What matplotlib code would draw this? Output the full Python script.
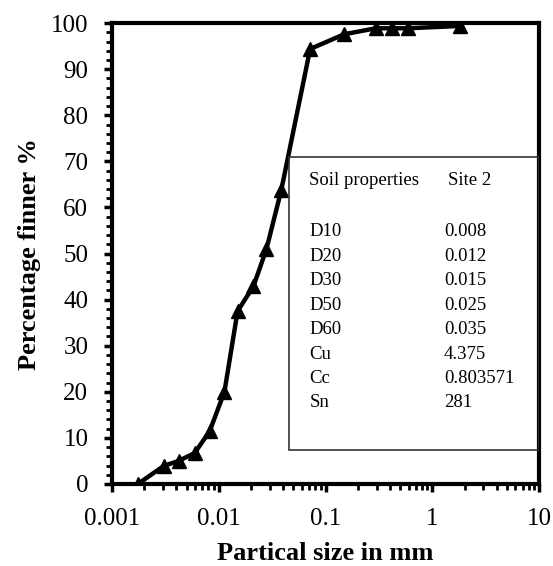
import matplotlib
matplotlib.use("Agg")
import matplotlib.pyplot as plt
from matplotlib.ticker import MultipleLocator, FixedLocator, LogLocator, NullFormatter

plt.rcParams['font.family'] = ['Liberation Serif', 'DejaVu Serif']

# Data
particle_size_mm = [0.00175, 0.00305, 0.00421, 0.00594, 0.0082, 0.0113, 0.0150, 0.0211,
                    0.0279, 0.0385, 0.0717, 0.149, 0.296, 0.417, 0.588, 1.80]
percent_finer = [0.0, 3.9, 5.0, 6.7, 11.4, 20.0, 37.5, 42.9,
                 50.9, 63.8, 94.4, 97.6, 98.9, 98.9, 98.9, 99.4]

x_ticks = [0.001, 0.01, 0.1, 1, 10]
x_tick_labels = ["0.001", "0.01", "0.1", "1", "10"]
y_ticks = [0, 10, 20, 30, 40, 50, 60, 70, 80, 90, 100]

table_header = ("Soil properties", "Site 2")
table_names = ["D10", "D20", "D30", "D50", "D60", "Cu", "Cc", "Sn"]
table_values = ["0.008", "0.012", "0.015", "0.025", "0.035", "4.375", "0.803571", "281"]

fig = plt.figure(figsize=(5.53, 5.66), dpi=100)
ax = fig.add_axes([0.2025, 0.145, 0.7725, 0.814])

ax.plot(particle_size_mm, percent_finer, color='black', lw=3.2,
        marker='^', markersize=10, markerfacecolor='black', markeredgecolor='black',
        solid_capstyle='round', solid_joinstyle='round')

ax.set_xscale('log')
ax.set_xlim(0.001, 10)
ax.set_ylim(0, 100)
ax.xaxis.set_major_locator(FixedLocator(x_ticks))
ax.set_xticklabels(x_tick_labels)
ax.xaxis.set_minor_locator(LogLocator(base=10, subs=range(2, 10)))
ax.xaxis.set_minor_formatter(NullFormatter())
ax.set_yticks(y_ticks)
ax.yaxis.set_minor_locator(MultipleLocator(2))

for s in ax.spines.values():
    s.set_linewidth(3)
ax.tick_params(which='major', direction='out', length=6, width=2.5, labelsize=18)
ax.tick_params(axis='x', which='major', pad=11)
ax.tick_params(axis='y', which='major', pad=11)
ax.tick_params(which='minor', direction='out', length=4, width=2)

ax.set_xlabel("Partical size in mm", fontsize=19, fontweight='bold', labelpad=9)
ax.set_ylabel("Percentage finner %", fontsize=19, fontweight='bold', labelpad=7)

# properties box
box = plt.Rectangle((0.415, 0.073), 0.585, 0.636, transform=ax.transAxes,
                    fill=False, edgecolor='#333333', lw=1.2, zorder=3)
ax.add_patch(box)
fs = 13.5
ax.text(0.462, 0.659, table_header[0], transform=ax.transAxes, fontsize=fs, va='center')
ax.text(0.786, 0.659, table_header[1], transform=ax.transAxes, fontsize=fs, va='center')
for i, (n, v) in enumerate(zip(table_names, table_values)):
    yy = 0.547 - i * 0.053
    ax.text(0.462, yy, n, transform=ax.transAxes, fontsize=fs, va='center')
    ax.text(0.777, yy, v, transform=ax.transAxes, fontsize=fs, va='center')

fig.savefig("out.png", dpi=100, facecolor='white')
